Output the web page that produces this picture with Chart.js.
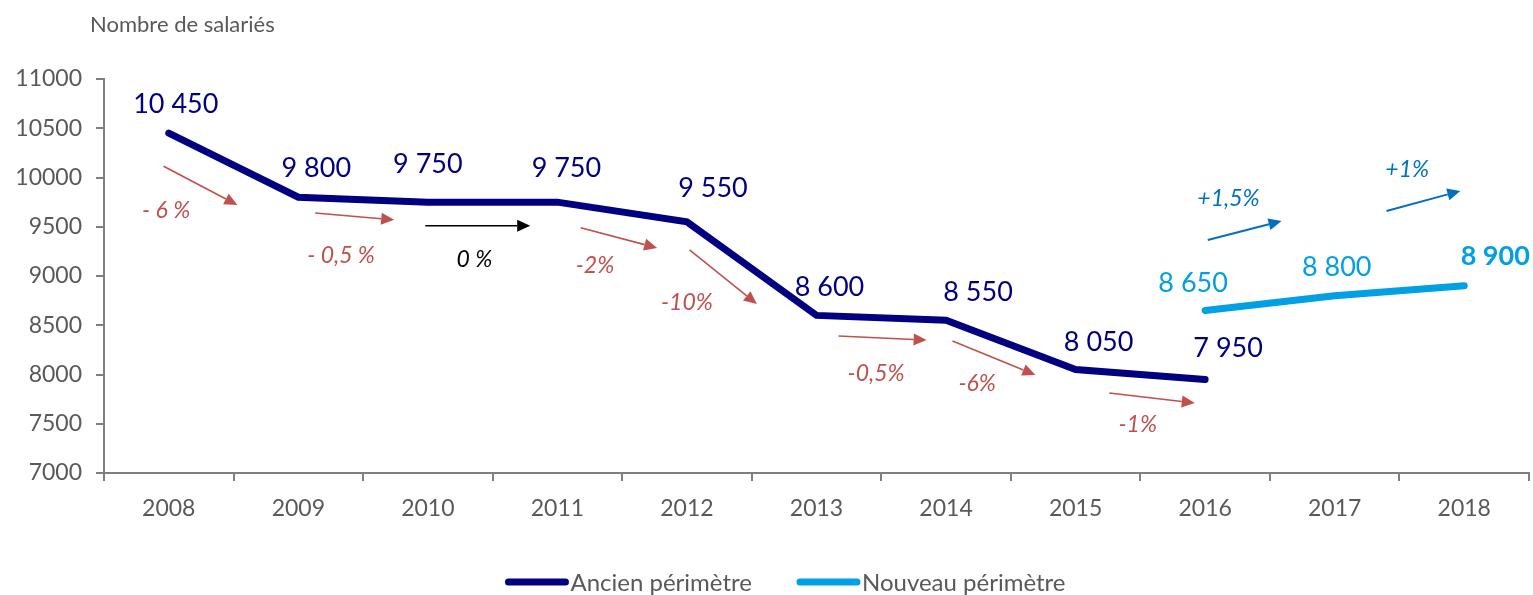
<!DOCTYPE html>
<html>
<head>
<meta charset="utf-8">
<script src="https://cdn.jsdelivr.net/npm/chart.js@4.4.1/dist/chart.umd.min.js"></script>
<style>
  body { margin: 0; background: #fff; }
  #wrap { width: 1533px; height: 595px; }
</style>
</head>
<body>
<div id="wrap"><canvas id="effectifs" width="1533" height="595"></canvas></div>
<script>
// ---- data ----
var years = ["2008", "2009", "2010", "2011", "2012", "2013", "2014", "2015", "2016", "2017", "2018"];
var ancienPerimetre = [10450, 9800, 9750, 9750, 9550, 8600, 8550, 8050, 7950, null, null];
var nouveauPerimetre = [null, null, null, null, null, null, null, null, 8650, 8800, 8900];
var yMin = 7000, yMax = 11000, yStep = 500;

// yearly variation arrows, in data space: [category index, value]
var variationText = ["- 6 %", "- 0,5 %", "0 %", "-2%", "-10%", "-0,5%", "-6%", "-1%", "+1,5%", "+1%"];
var variationFrom = [[-0.04, 10115], [1.13, 9640], [1.98, 9510], [3.18, 9490], [4.02, 9264],
                     [5.17, 8391], [6.05, 8340], [7.26, 7812], [8.02, 9365], [9.40, 9660]];
var variationTo   = [[0.53, 9720], [1.74, 9570], [2.79, 9510], [3.77, 9285], [4.54, 8716],
                     [5.85, 8350], [6.69, 7995], [7.92, 7711], [8.59, 9558], [9.97, 9863]];
var variationAt   = [[-0.02, 9670], [1.33, 9213], [2.36, 9173], [3.29, 9112], [4.00, 8736],
                     [5.46, 8015], [6.24, 7914], [7.48, 7497], [8.18, 9792], [9.56, 10086]];

// ---- styles ----
var navy = "#000080";
var lightBlue = "#00A0E3";
var red = "#C0504D";
var blue = "#0070C0";
var grey = "#595959";
var axisGrey = "#7F7F7F";
var font = "Lato, 'Open Sans', sans-serif";
var variationColors = [red, red, "#000000", red, red, red, red, red, blue, blue];
// value label shifts from the point (px)
var shiftAncien = [[7, -29], [18, -29], [0, -38], [9, -34], [26, -34], [13, -28], [32, -28], [23, -28], [23, -31]];
var shiftNouveau = [[0, 0], [0, 0], [0, 0], [0, 0], [0, 0], [0, 0], [0, 0], [0, 0], [-12, -27], [2, -29], [31, -30]];

function formatNombre(v) {
    return String(v).replace(/\B(?=(\d{3})+(?!\d))/g, " ");
}

function drawArrow(ctx, x0, y0, x1, y1, color) {
    var ang = Math.atan2(y1 - y0, x1 - x0);
    var head = 13, half = 6;
    ctx.save();
    ctx.strokeStyle = color;
    ctx.fillStyle = color;
    ctx.lineWidth = color === blue ? 2 : 1.6;
    ctx.beginPath();
    ctx.moveTo(x0, y0);
    ctx.lineTo(x1 - Math.cos(ang) * head, y1 - Math.sin(ang) * head);
    ctx.stroke();
    ctx.beginPath();
    ctx.moveTo(x1, y1);
    ctx.lineTo(x1 - Math.cos(ang) * head - Math.sin(ang) * half, y1 - Math.sin(ang) * head + Math.cos(ang) * half);
    ctx.lineTo(x1 - Math.cos(ang) * head + Math.sin(ang) * half, y1 - Math.sin(ang) * head - Math.cos(ang) * half);
    ctx.closePath();
    ctx.fill();
    ctx.restore();
}

var decorations = {
    id: "decorations",
    afterDatasetsDraw: function(chart) {
        var ctx = chart.ctx;
        var xs = chart.scales.x, ys = chart.scales.y;

        // arrows + percentage labels
        ctx.save();
        ctx.font = "italic 23px " + font;
        ctx.textAlign = "center";
        ctx.textBaseline = "alphabetic";
        for (var i = 0; i < variationText.length; i++) {
            var c = variationColors[i];
            drawArrow(ctx,
                xs.getPixelForValue(variationFrom[i][0]), ys.getPixelForValue(variationFrom[i][1]),
                xs.getPixelForValue(variationTo[i][0]), ys.getPixelForValue(variationTo[i][1]), c);
            ctx.fillStyle = c;
            ctx.fillText(variationText[i], xs.getPixelForValue(variationAt[i][0]), ys.getPixelForValue(variationAt[i][1]) + 8);
        }
        ctx.restore();

        // value labels
        ctx.save();
        ctx.textAlign = "center";
        ctx.textBaseline = "alphabetic";
        chart.data.datasets.forEach(function(ds, d) {
            var meta = chart.getDatasetMeta(d);
            var shifts = d === 0 ? shiftAncien : shiftNouveau;
            ds.data.forEach(function(v, k) {
                if (v === null) return;
                var pt = meta.data[k];
                var last = d === 1 && k === ds.data.length - 1;
                ctx.font = (last ? "bold " : "") + "27px " + font;
                ctx.fillStyle = ds.borderColor;
                ctx.fillText(formatNombre(v), pt.x + shifts[k][0], pt.y + shifts[k][1] + 9);
            });
        });
        ctx.restore();
    },
    afterDraw: function(chart) {
        var ctx = chart.ctx;
        ctx.save();
        // axis title
        ctx.font = "22px " + font;
        ctx.fillStyle = grey;
        ctx.textAlign = "left";
        ctx.textBaseline = "alphabetic";
        ctx.fillText("Nombre de salariés", 90, 32);

        // legend (slightly right of centre, as in the original)
        ctx.font = "24px " + font;
        var sample = 63, gap = 2, between = 45;
        var items = chart.data.datasets;
        var total = 0;
        items.forEach(function(ds, i) {
            total += sample + gap + ctx.measureText(ds.label).width + (i ? between : 0);
        });
        var x = (chart.width - total) / 2 + 19, yc = 582;
        items.forEach(function(ds, i) {
            if (i) x += between;
            ctx.strokeStyle = ds.borderColor;
            ctx.lineWidth = 7;
            ctx.lineCap = "round";
            ctx.beginPath();
            ctx.moveTo(x + 3, yc);
            ctx.lineTo(x + sample - 3, yc);
            ctx.stroke();
            x += sample + gap;
            ctx.fillStyle = grey;
            ctx.fillText(ds.label, x, yc + 9);
            x += ctx.measureText(ds.label).width;
        });
        ctx.restore();
    }
};

var chart = new Chart(document.getElementById("effectifs").getContext("2d"), {
    type: "line",
    data: {
        labels: years,
        datasets: [
            {
                label: "Ancien périmètre",
                data: ancienPerimetre,
                borderColor: navy,
                backgroundColor: navy,
                borderWidth: 7,
                borderCapStyle: "round",
                borderJoinStyle: "miter",
                pointRadius: 0,
                tension: 0
            },
            {
                label: "Nouveau périmètre",
                data: nouveauPerimetre,
                borderColor: lightBlue,
                backgroundColor: lightBlue,
                borderWidth: 7,
                borderCapStyle: "round",
                borderJoinStyle: "miter",
                pointRadius: 0,
                tension: 0
            }
        ]
    },
    options: {
        responsive: false,
        animation: false,
        layout: { padding: { top: 79, left: 13, right: 4, bottom: 72 } },
        plugins: {
            legend: { display: false },
            tooltip: { enabled: false }
        },
        scales: {
            x: {
                offset: true,
                afterFit: function(scale) { scale.height = 50; },
                grid: { offset: true, drawOnChartArea: false, drawTicks: true, tickLength: 8, color: axisGrey, lineWidth: 2 },
                border: { display: true, color: axisGrey, width: 2 },
                ticks: { color: grey, padding: 14, font: { family: font, size: 23 } }
            },
            y: {
                min: yMin,
                max: yMax,
                afterFit: function(scale) { scale.width = 91; },
                grid: { drawOnChartArea: false, drawTicks: true, tickLength: 8, color: axisGrey, lineWidth: 2 },
                border: { display: true, color: axisGrey, width: 2 },
                ticks: {
                    stepSize: yStep,
                    color: grey,
                    padding: 14,
                    font: { family: font, size: 23 },
                    callback: function(v) { return String(v); }
                }
            }
        }
    },
    plugins: [decorations]
});
</script>
</body>
</html>
